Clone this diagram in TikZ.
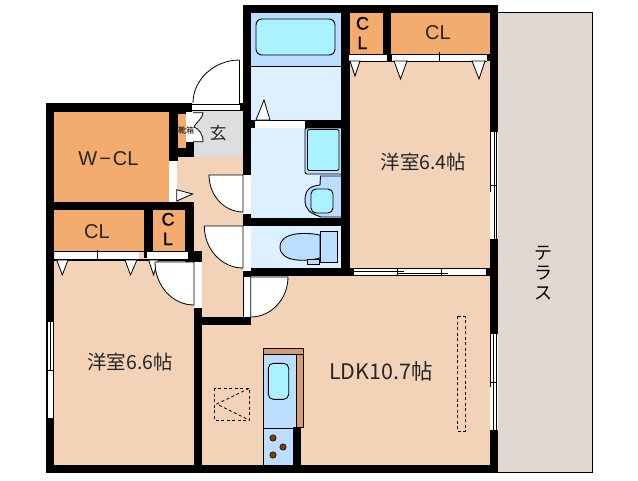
\documentclass[tikz,border=0pt]{standalone}
\usepackage{fontspec}
\setmainfont{Liberation Sans}
\newfontfamily\jpfont{Noto Sans CJK JP}
\newfontfamily\clfont[FakeBold=1]{Liberation Sans}
\definecolor{peach}{HTML}{F2D3B8}
\definecolor{closet}{HTML}{F3AB6E}
\definecolor{hallgray}{HTML}{DDDEE0}
\definecolor{wetlight}{HTML}{DDF0FF}
\definecolor{wetblue}{HTML}{BBDDFF}
\definecolor{basin}{HTML}{AAF2FF}
\definecolor{terrace}{HTML}{E0D8CE}
\definecolor{burner}{HTML}{7A3E00}
\definecolor{counter}{HTML}{D89C6A}
\tikzset{
  wall/.style={fill=black},
  closetbox/.style={fill=closet},
  strip/.style={fill=white},
  line1/.style={draw=black,line width=0.8pt},
  doorleaf/.style={fill=white,draw=black,line width=0.8pt},
  vent/.style={draw=black,line width=0.8pt,dash pattern=on 3pt off 2.5pt},
  fixture/.style={draw=black,line width=0.9pt},
  roomlabel/.style={inner sep=0pt,font=\fontsize{19.5}{20}\selectfont\jpfont,text=black!85},
  cllabel/.style={inner sep=0pt,font=\fontsize{20}{20}\selectfont,text=black!85},
  smallcl/.style={inner sep=0pt,align=center,font=\fontsize{18}{19.5}\selectfont\clfont,text=black}
}
\begin{document}
\begin{tikzpicture}[x=1pt,y=-1pt]
\useasboundingbox (0,0) rectangle (638,480);
\fill[white] (0,0) rectangle (638,480);
% terrace
\fill[terrace] (498,12) rectangle (592,472);
\draw[line1] (498,12) -- (592,12) -- (592,472) -- (498,472);
% interior
\fill[peach] (54,202) rectangle (243,465);
\fill[peach] (170,150) rectangle (243,210);
\fill[peach] (243,268) rectangle (490,465);
\fill[peach] (350,54) rectangle (490,275);
% closets
\fill[closetbox] (54,112) rectangle (169,202);
\fill[closetbox] (54,209) rectangle (144,251);
\fill[closetbox] (153,209) rectangle (185,251);
\fill[closetbox] (350,13) rectangle (383,54);
\fill[closetbox] (391,13) rectangle (490,54);
% entry
\fill[hallgray] (192,110) rectangle (243,156);
% wet rooms
\fill[wetblue] (251,13) rectangle (341,66);
\fill[wetlight] (251,66) rectangle (341,120);
\draw[line1] (251,66) -- (341,66);
\fill[wetlight] (251,128) rectangle (341,218);
\fill[wetlight] (251,226) rectangle (341,268);
% bath tub
\draw[fixture,fill=basin,rounded corners=6pt] (256,19) rectangle (335,55);
% vanity
\draw[fixture,fill=wetblue,rounded corners=2pt] (341,128) -- (305,128) -- (305,174) -- (341,174);
\draw[fixture,fill=basin,rounded corners=1.5pt] (307.5,129.5) rectangle (339,170.5);
% washstand shape
\path[draw=black,line width=0.9pt,fill=wetblue] (341,176) -- (320.5,176) -- (320,185)
  .. controls (311,186) and (305,189) .. (305,200) .. controls (305,210) and (310,213) .. (321,217) -- (341,217);
\path[draw=black,line width=0.9pt,fill=basin,rounded corners=5pt] (311,189) rectangle (333,213);
% toilet
\draw[fixture,fill=wetblue] (320,235) .. controls (305,232) and (280,232) .. (280,247)
  .. controls (280,262) and (305,262) .. (320,258) -- cycle;
\draw[fixture,fill=wetblue] (307.5,259.5) rectangle (319.5,264.5);
\draw[fixture,fill=wetblue] (320.5,231.5) rectangle (337.5,262.5);
% kitchen
\draw[fixture,fill=counter] (263.5,348.5) rectangle (303.3,354);
\draw[fixture,fill=counter] (296.7,354) rectangle (303.3,427.5);
\draw[fixture,fill=wetblue] (263.5,354) rectangle (296.7,465);
\draw[fixture] (263.5,428.3) -- (296.7,428.3);
\draw[fixture,fill=basin,rounded corners=5pt] (268.3,363.3) rectangle (288.7,399.3);
\foreach \bx/\by in {273/438,283/447,273/455}
  \fill[burner,draw=black,line width=0.5pt] (\bx,\by) circle[radius=3.2pt];
\fill[wall] (293.3,427) rectangle (301,465);
% dashed
\draw[vent] (214.3,388.3) rectangle (249.3,420);
\draw[vent] (249,388.5) -- (216.7,404) -- (249,420);
\draw[vent] (457.3,316.3) rectangle (465,431.3);
% walls
\fill[wall] (243,5) rectangle (498,13);
\fill[wall] (243,5) rectangle (251,120);
\fill[wall] (341,5) rectangle (350,276);
\fill[wall] (383,5) rectangle (391,54);
\fill[wall] (490,5) rectangle (498,473);
\fill[wall] (243,120) rectangle (341,128);
\fill[wall] (243,128) rectangle (251,175);
\fill[wall] (243,214) rectangle (251,226);
\fill[wall] (243,218) rectangle (350,226);
\fill[wall] (243,268) rectangle (354,276);
\fill[wall] (240,103) rectangle (243,110);
\fill[wall] (46,103) rectangle (192,112);
\fill[wall] (46,103) rectangle (54,473);
\fill[wall] (46,465) rectangle (498,473);
\fill[wall] (169,103) rectangle (178,161);
\fill[wall] (178,103) rectangle (191,114);
\fill[wall] (178,148) rectangle (191,157);
\fill[wall] (186,142) rectangle (194,157);
\fill[wall] (46,202) rectangle (194,209.5);
\fill[wall] (144,202) rectangle (153,258);
\fill[wall] (185,202) rectangle (194,262);
\fill[wall] (193,251) rectangle (202,262);
\fill[wall] (54,258.5) rectangle (194,260.5);
\fill[wall] (194,308) rectangle (202,466);
\fill[wall] (202,317) rectangle (250.7,325);
\fill[wall] (243,271) rectangle (251,277);
\fill[wall] (485.7,268) rectangle (490,276);
\fill[closetbox] (178,114) rectangle (186,148);
% sliding doors and strips
\fill[strip] (192,104.5) rectangle (240,110);
\draw[line1] (192,104.5) -- (240,104.5) (192,110) -- (243,110);
\draw[line1] (239.6,60) -- (239.6,104.5);
\draw[line1] (239.6,60) .. controls (214,60) and (193,79.7) .. (193,103);
% shoe cupboard doors
\fill[strip] (186,112) rectangle (194,142);
\draw[doorleaf] (193,112.7) -- (203,112.7) .. controls (202,120) and (196,122) .. (194,127)
  .. controls (199,129) and (203,134) .. (203,141.7) -- (193,141.7);
% bath door
\fill[strip] (255,121) rectangle (305,128);
\draw[doorleaf] (256,120) -- (264,100) -- (270,120) -- cycle;
% CL doors top right
\fill[strip] (349,54) rectangle (387,61);
\fill[strip] (392,54) rectangle (487,61);
\draw[line1] (349,54) -- (490,54) (349,61) -- (487,61);
\draw[line1] (439.5,52) -- (439.5,62);
\fill[wall] (387,54) rectangle (392,61);
\fill[wall] (487,54) rectangle (490,61);
\draw[doorleaf] (350,61) -- (360,61) -- (355,76) -- cycle;
\draw[doorleaf] (394,61) -- (407,61) -- (400.5,79) -- cycle;
\draw[doorleaf] (472,61) -- (485,61) -- (479,79) -- cycle;
% WCL door
\fill[strip] (169.3,161) rectangle (176.7,201.7);
\draw[doorleaf] (176.7,189.7) -- (192.7,194) -- (176.7,201) -- cycle;
% CL doors left
\fill[strip] (54.7,251) rectangle (139.3,258.5);
\fill[strip] (147,251) rectangle (188,258.5);
\draw[line1] (54,251) -- (188,251);
\draw[line1] (97,250) -- (97,260);
\draw[doorleaf] (56.7,260) -- (68,260) -- (62.3,275) -- cycle;
\draw[doorleaf] (125,260) -- (137,260) -- (130.5,275) -- cycle;
\draw[doorleaf] (148.7,260) -- (158.5,260) -- (153.5,275) -- cycle;
% swing doors
\fill[strip] (243,175) rectangle (250.7,214);
\draw[doorleaf] (243,175) -- (209,175) .. controls (209,195.4) and (224.2,212) .. (243,212) -- cycle;
\fill[strip] (243,226) rectangle (250.7,271);
\draw[doorleaf] (243,226) -- (204.3,226) .. controls (204.3,249.2) and (221.7,268) .. (243,268) -- cycle;
\fill[strip] (243,277) rectangle (250.7,317);
\draw[doorleaf] (250.7,277) -- (288,277) .. controls (288,299) and (271.2,317) .. (250.7,317) -- cycle;
\draw[line1] (243,277) -- (243,317);
\fill[strip] (194.3,262) rectangle (201.7,308);
\draw[doorleaf] (194,262) -- (155,262) .. controls (155,285.7) and (172.5,305) .. (194,305) -- cycle;
% sliding window LDK / room
\fill[strip] (354,268.3) rectangle (485.7,275.5);
\draw[line width=0.8pt] (354,268.5) -- (485.7,268.5) (354,275.2) -- (485.7,275.2);
\draw[line width=0.8pt] (354,271.3) -- (404,271.3);
\draw[line width=1.4pt] (391,271.3) -- (404,271.3);
\draw[line width=0.8pt] (397,273.2) -- (447.7,273.2);
\draw[line width=0.8pt] (397.3,268) -- (397.3,275.5) (441.3,268) -- (441.3,275.5);
% windows right
\fill[strip] (490,132) rectangle (498,239);
\draw[line width=0.8pt] (490.7,132) -- (490.7,191.7) (494,132) -- (494,239) (496.7,132) -- (496.7,239);
\draw[line width=0.8pt] (490.7,185) -- (496,185) (494,180) -- (494,192);
\fill[strip] (490,334) rectangle (498,430);
\draw[line width=0.8pt] (490.5,334) -- (490.5,387) (493.5,334) -- (493.5,430) (496.7,334) -- (496.7,430);
\draw[line width=0.8pt] (490.5,382.7) -- (496.7,382.7);
% window left
\fill[strip] (46.5,322) rectangle (54,418);
\draw[line width=0.8pt] (47,322) -- (47,418) (50,322) -- (50,370) (53,322) -- (53,418);
\draw[line width=0.8pt] (47,370) -- (53,370);
% labels
\node[roomlabel] (room64) at (423.5,162) {洋室6.4帖};
\node[roomlabel] (room66) at (130,362) {洋室6.6帖};
\node[roomlabel,font=\fontsize{21.5}{22}\selectfont\jpfont] (ldk) at (381,371) {LDK10.7帖};
\node[cllabel] (wcl) at (108.5,158.5) {W{\kern2pt}−{\kern2pt}CL};
\node[cllabel] (cla) at (438,33) {CL};
\node[cllabel] (clb) at (97,232) {CL};
\node[smallcl] (clc) at (362.5,33) {C\\L};
\node[smallcl] (cld) at (168,229) {C\\L};
\node[inner sep=0pt,font=\fontsize{8}{8}\selectfont\jpfont] (shoe) at (186,130) {靴箱};
\node[inner sep=0pt,font=\fontsize{17}{17}\selectfont\jpfont,text=black!85] (genkan) at (218,133) {玄};
\node[inner sep=0pt,align=center,font=\fontsize{18}{20}\selectfont\jpfont] (terr) at (543,273) {テ\\ラ\\ス};
\end{tikzpicture}
\end{document}
